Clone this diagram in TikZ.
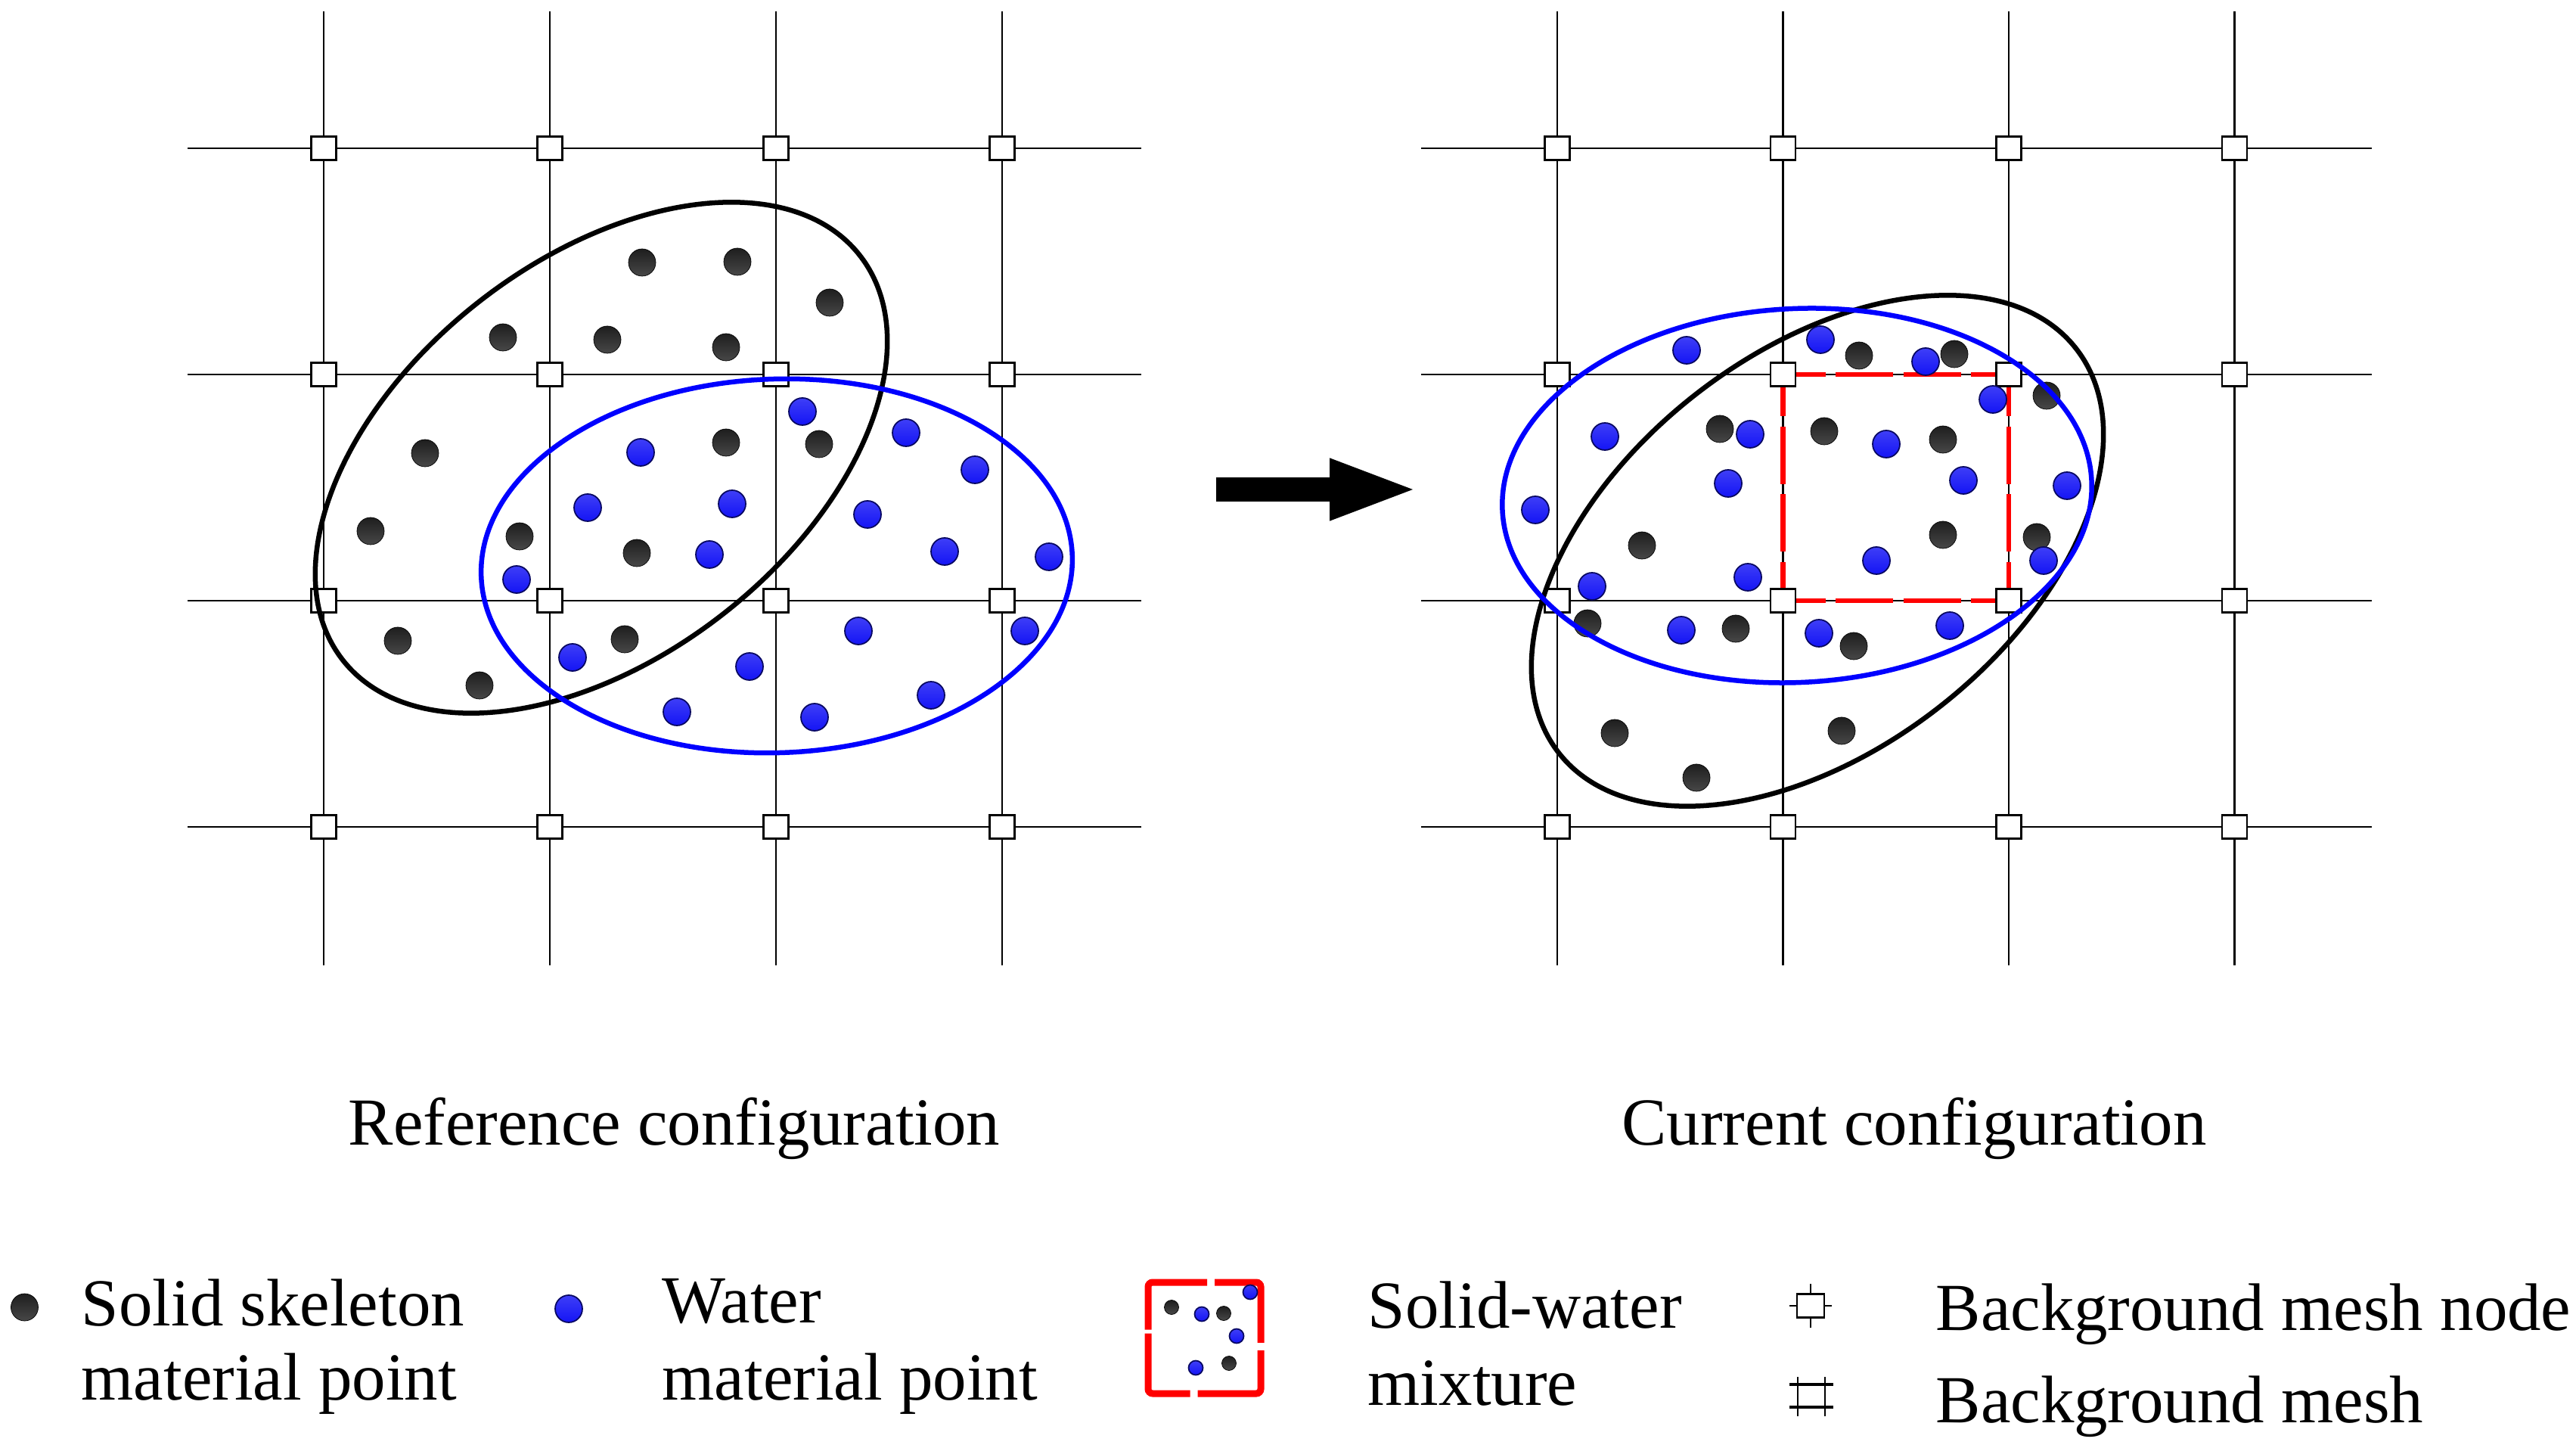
\documentclass[tikz,border=0pt]{standalone}
\usepackage{fontspec}
\setmainfont{Liberation Serif}
\usetikzlibrary{arrows.meta, positioning, calc}
\usepackage{xcolor}
\definecolor{solidgray}{RGB}{30,30,30}
\definecolor{waterblue}{RGB}{20,20,245}
\definecolor{ellipseblue}{RGB}{0,0,255}
\definecolor{mixred}{RGB}{255,0,0}
\tikzstyle{meshline} = [line width=0.6pt, black]
\tikzstyle{meshnode} = [rectangle, draw=black, fill=white, line width=0.75pt, minimum width=0.33cm, minimum height=0.31cm, inner sep=0pt]
\tikzstyle{solidpt} = [circle, inner sep=0pt, minimum size=0.36cm, top color=solidgray, bottom color=black!72, draw=black, line width=0.2pt]
\tikzstyle{waterpt} = [circle, inner sep=0pt, minimum size=0.36cm, top color=waterblue!82!white, bottom color=waterblue, draw=black!60!waterblue, line width=0.5pt]
\tikzstyle{smallsolid} = [solidpt, minimum size=0.19cm]
\tikzstyle{smallwater} = [waterpt, minimum size=0.19cm]
\tikzstyle{skeleton} = [line width=0.065cm, black]
\tikzstyle{waterzone} = [line width=0.065cm, ellipseblue]
\tikzstyle{mixture} = [line width=0.065cm, mixred, dash pattern=on 0.76cm off 0.135cm, dash phase=0.375cm]
\tikzstyle{textlabel} = [font=\fontsize{25.3}{30}\selectfont, inner sep=0pt]
\tikzstyle{movearrow} = [line width=0.326cm, -{Triangle[length=1.19cm, width=0.726cm]}]

\begin{document}
\begin{tikzpicture}

\useasboundingbox (0,0) rectangle (34.06,19.13);

% Background mesh (left: reference, right: current)
\foreach \i in {0,...,3} {
  \draw[meshline] ({4.28+2.99*\i},18.98) -- ({4.28+2.99*\i},6.37);
  \draw[meshline] (2.48,{17.17-2.99*\i}) -- (15.09,{17.17-2.99*\i});
  \draw[meshline] ({20.59+2.985*\i},18.98) -- ({20.59+2.985*\i},6.37);
  \draw[meshline] (18.79,{17.17-2.99*\i}) -- (31.36,{17.17-2.99*\i});
}

% Mesh nodes
\foreach \i in {0,...,3} {
  \foreach \j in {0,...,3} {
    \node[meshnode] (L\i\j) at ({4.28+2.99*\i},{17.17-2.99*\j}) {};
    \node[meshnode] (R\i\j) at ({20.59+2.985*\i},{17.17-2.99*\j}) {};
  }
}

% Solid-water mixture cell
\draw[mixture] (R11) -- (R21);
\draw[mixture] (R12) -- (R22);
\draw[mixture] (R11) -- (R12);
\draw[mixture] (R21) -- (R22);

% Reference configuration - solid skeleton points
\node[solidpt] (sL1) at (8.49,15.66) {};
\node[solidpt] (sL2) at (9.75,15.67) {};
\node[solidpt] (sL3) at (10.97,15.13) {};
\node[solidpt] (sL4) at (6.65,14.67) {};
\node[solidpt] (sL5) at (8.03,14.64) {};
\node[solidpt] (sL6) at (9.60,14.54) {};
\node[solidpt] (sL7) at (5.62,13.14) {};
\node[solidpt] (sL8) at (9.60,13.28) {};
\node[solidpt] (sL9) at (10.83,13.26) {};
\node[solidpt] (sL10) at (4.90,12.11) {};
\node[solidpt] (sL11) at (6.87,12.04) {};
\node[solidpt] (sL12) at (8.42,11.82) {};
\node[solidpt] (sL13) at (5.26,10.66) {};
\node[solidpt] (sL14) at (8.26,10.68) {};
\node[solidpt] (sL15) at (6.34,10.07) {};

% Reference configuration - water points
\node[waterpt] (wL1) at (10.61,13.69) {};
\node[waterpt] (wL2) at (11.98,13.41) {};
\node[waterpt] (wL3) at (8.47,13.15) {};
\node[waterpt] (wL4) at (12.89,12.92) {};
\node[waterpt] (wL5) at (7.77,12.42) {};
\node[waterpt] (wL6) at (9.68,12.47) {};
\node[waterpt] (wL7) at (11.47,12.33) {};
\node[waterpt] (wL8) at (9.38,11.80) {};
\node[waterpt] (wL9) at (12.49,11.84) {};
\node[waterpt] (wL10) at (13.87,11.77) {};
\node[waterpt] (wL11) at (6.83,11.47) {};
\node[waterpt] (wL12) at (11.35,10.79) {};
\node[waterpt] (wL13) at (13.55,10.79) {};
\node[waterpt] (wL14) at (7.57,10.44) {};
\node[waterpt] (wL15) at (9.91,10.32) {};
\node[waterpt] (wL16) at (12.31,9.94) {};
\node[waterpt] (wL17) at (8.95,9.72) {};
\node[waterpt] (wL18) at (10.77,9.65) {};

% Current configuration - solid skeleton points
\node[solidpt] (sR1) at (24.58,14.43) {};
\node[solidpt] (sR2) at (25.84,14.45) {};
\node[solidpt] (sR3) at (27.06,13.90) {};
\node[solidpt] (sR4) at (22.74,13.46) {};
\node[solidpt] (sR5) at (24.12,13.43) {};
\node[solidpt] (sR6) at (25.69,13.32) {};
\node[solidpt] (sR7) at (21.71,11.92) {};
\node[solidpt] (sR8) at (25.69,12.06) {};
\node[solidpt] (sR9) at (26.93,12.03) {};
\node[solidpt] (sR10) at (20.99,10.89) {};
\node[solidpt] (sR11) at (22.95,10.82) {};
\node[solidpt] (sR12) at (24.51,10.59) {};
\node[solidpt] (sR13) at (21.35,9.44) {};
\node[solidpt] (sR14) at (24.35,9.47) {};
\node[solidpt] (sR15) at (22.43,8.85) {};

% Current configuration - water points
\node[waterpt] (wR1) at (22.30,14.50) {};
\node[waterpt] (wR2) at (24.07,14.64) {};
\node[waterpt] (wR3) at (25.46,14.35) {};
\node[waterpt] (wR4) at (26.35,13.85) {};
\node[waterpt] (wR5) at (21.22,13.36) {};
\node[waterpt] (wR6) at (23.14,13.39) {};
\node[waterpt] (wR7) at (24.94,13.26) {};
\node[waterpt] (wR8) at (22.85,12.74) {};
\node[waterpt] (wR9) at (25.96,12.78) {};
\node[waterpt] (wR10) at (27.33,12.71) {};
\node[waterpt] (wR11) at (20.30,12.39) {};
\node[waterpt] (wR12) at (24.81,11.72) {};
\node[waterpt] (wR13) at (27.02,11.72) {};
\node[waterpt] (wR14) at (23.11,11.50) {};
\node[waterpt] (wR15) at (21.05,11.38) {};
\node[waterpt] (wR16) at (22.23,10.80) {};
\node[waterpt] (wR17) at (24.05,10.76) {};
\node[waterpt] (wR18) at (25.78,10.86) {};

% Material domains
\draw[skeleton, rotate around={38:(7.95,13.08)}] (7.95,13.08) ellipse (4.34 and 2.62);
\draw[waterzone, rotate around={2:(10.27,11.65)}] (10.27,11.65) ellipse (3.91 and 2.47);
\draw[skeleton, rotate around={38:(24.03,11.85)}] (24.03,11.85) ellipse (4.34 and 2.62);
\draw[waterzone, rotate around={3:(23.76,12.58)}] (23.76,12.58) ellipse (3.90 and 2.47);

% Deformation arrow
\coordinate (arrowtail) at (16.08,12.66);
\coordinate (arrowtip) at (18.77,12.66);
\draw[movearrow] (arrowtail) -- (arrowtip);

% Captions
\node[textlabel, anchor=base] (refcap) at (8.915,4.00) {Reference configuration};
\node[textlabel, anchor=base] (curcap) at (25.31,4.00) {Current configuration};

% Legend
\node[solidpt] (keysolid) at (0.325,1.85) {};
\node[textlabel, anchor=base west] (keysolidA) at (1.07,1.61) {Solid skeleton};
\node[textlabel, anchor=base west] (keysolidB) at (1.07,0.63) {material point};

\node[waterpt] (keywater) at (7.52,1.83) {};
\node[textlabel, anchor=base west] (keywaterA) at (8.75,1.65) {Water};
\node[textlabel, anchor=base west] (keywaterB) at (8.75,0.63) {material point};

\draw[mixred, line width=0.09cm, rounded corners=0.06cm, dash pattern=on 1.38cm off 0.1cm, dash phase=1.43cm]
  (15.18,1.445) -- (15.18,2.18) -- (16.67,2.18) -- (16.67,0.71) -- (15.18,0.71) -- cycle;
\node[smallsolid] (km1) at (15.49,1.85) {};
\node[smallwater] (km2) at (15.89,1.76) {};
\node[smallsolid] (km3) at (16.18,1.77) {};
\node[smallwater] (km4) at (16.53,2.05) {};
\node[smallwater] (km5) at (16.35,1.47) {};
\node[smallwater] (km6) at (15.81,1.05) {};
\node[smallsolid] (km7) at (16.25,1.11) {};
\node[textlabel, anchor=base west] (keymixA) at (18.08,1.58) {Solid-water};
\node[textlabel, anchor=base west] (keymixB) at (18.08,0.56) {mixture};

\draw[meshline] (23.94,1.58) -- (23.94,2.16);
\draw[meshline] (23.66,1.87) -- (24.22,1.87);
\node[meshnode, minimum width=0.36cm] (keynode) at (23.94,1.87) {};
\node[textlabel, anchor=base west] (keynodeA) at (25.59,1.55) {Background mesh node};

\draw[meshline] (23.77,0.41) -- (23.77,0.93);
\draw[meshline] (24.13,0.41) -- (24.13,0.93);
\draw[meshline, line width=0.9pt] (23.66,0.83) -- (24.24,0.83);
\draw[meshline, line width=0.9pt] (23.66,0.53) -- (24.24,0.53);
\node[textlabel, anchor=base west] (keymeshA) at (25.59,0.33) {Background mesh};

\end{tikzpicture}
\end{document}
